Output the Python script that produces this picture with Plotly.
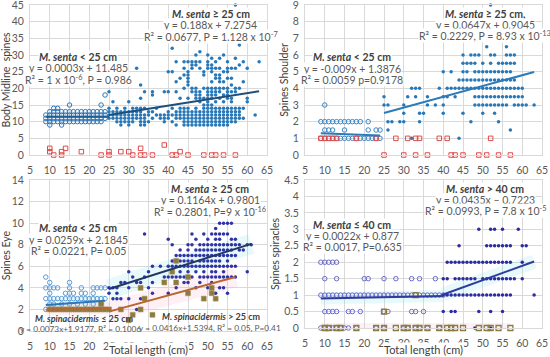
import plotly.graph_objects as go

# ---------------- data ----------------
x_ticks = [5, 10, 15, 20, 25, 30, 35, 40, 45, 50, 55, 60, 65]

# Panel A: Body midline spines (columns: x, list of y)
a_senta_small = [
    (9, [10, 11, 12]), (10, [9, 10, 11, 12, 13]), (11, [10, 11, 12, 13, 14]),
    (12, [10, 11, 12, 13, 14]), (13, [9, 10, 11, 12, 13]), (14, [10, 11, 12, 13]),
    (15, [10, 11, 12, 13, 15]), (16, [10, 11, 12, 13]), (17, [10, 11, 12, 13]),
    (18, [10, 11, 12, 13]), (19, [10, 11, 12, 13]), (20, [10, 11, 12, 13]),
    (21, [10, 11, 12, 13]), (22, [10, 11, 12, 13]), (23, [10, 11, 12, 13, 15]),
    (24, [11, 12, 13, 18]),
]
a_senta_large = [
    (25, [11, 12, 13, 14, 19]), (26, [11, 12, 13, 16]), (27, [10, 11, 12, 13, 14]),
    (28, [9, 10, 11, 12, 13]), (29, [10, 11, 12, 13, 14]), (30, [9, 10, 11, 12, 13, 16]),
    (31, [10, 11, 12, 13, 14]), (32, [11, 12, 13, 14, 26]), (33, [9, 10, 11, 12, 13, 14, 17, 21]),
    (34, [9, 10, 11, 12, 14, 19]), (35, [10, 12, 13]), (36, [11, 13, 18, 19]),
    (37, [12, 14]), (38, [11, 12]), (39, [10, 11, 12, 19]), (40, [11, 12, 13, 19, 25]),
    (41, [10, 12, 14, 25, 32]), (42, [9, 11, 12, 13, 19, 22, 28]),
    (43, [11, 12, 13, 14, 17, 23]), (44, [9, 10, 11, 12, 13, 14, 20, 24, 26, 28]),
    (45, [9, 10, 11, 12, 13, 14, 17, 21, 22, 23, 24, 25, 28]),
    (46, [9, 10, 11, 12, 13, 19, 20, 26, 27, 28]),
    (47, [9, 10, 11, 12, 13, 14, 17, 18, 19, 20, 27, 28, 30]),
    (48, [9, 10, 11, 12, 13, 16, 17, 18, 19, 26, 28, 31]),
    (49, [9, 10, 11, 12, 13, 14, 15, 17, 20, 24, 25]),
    (50, [9, 10, 11, 12, 13, 14, 15, 16, 17, 18, 19, 20, 26, 27, 28, 30]),
    (51, [9, 10, 11, 12, 13, 14, 15, 17, 18, 19, 20, 22, 25, 26, 27, 29]),
    (52, [9, 10, 11, 12, 13, 14, 16, 18, 19, 20, 23, 24, 26, 28]),
    (53, [9, 10, 11, 12, 13, 14, 17, 19, 20, 22, 23, 24, 26, 29]),
    (54, [9, 10, 11, 12, 13, 14, 16, 18, 20, 22, 25, 30]),
    (55, [9, 10, 11, 12, 13, 14, 17, 18, 19, 20, 23, 25, 26, 28]),
    (56, [10, 11, 12, 13, 14, 16, 17, 19, 21, 23, 26]),
    (57, [10, 11, 12, 13, 14, 19, 20, 26, 29, 45]),
    (58, [11, 12, 13, 14, 20, 27, 33]), (59, [11, 14, 22, 28]), (60, [16, 17, 26]),
    (62, [12]), (63, [28]),
]
a_spin = [
    (10, [1, 2]), (11, [0]), (13, [0, 1]), (14, [2]), (18, [1]), (23, [0]), (25, [0, 1]),
    (28, [1]), (30, [1]), (31, [0]), (33, [0, 2]), (34, [0]), (36, [0]), (39, [3]),
    (41, [0]), (42, [0]), (43, [1]), (45, [0]), (49, [0]), (51, [0]), (52, [0]),
    (54, [0]), (57, [0]),
]
a_fit_small = ([9, 25], [11.49, 11.49])
a_fit_large = ([25, 63], [11.98, 19.12])

# Panel B: Spines shoulder
b_senta_small = [
    (9, [1, 2]), (10, [1, 1.5, 2, 3]), (11, [1, 1.5, 2]), (12, [1, 1.5, 2]),
    (13, [1, 2]), (14, [1, 2]), (15, [1, 1.5, 2]), (16, [1, 2]), (17, [1, 2]),
    (18, [1, 2]), (19, [1, 2]), (20, [1]), (21, [1, 1.5, 2]), (22, [1]),
    (23, [1, 1.5]), (24, [1, 1.5]),
]
b_senta_large = [
    (25, [3, 3.5]), (26, [1.5, 2, 3]), (27, [2]), (29, [2]), (30, [2, 2.5, 3]),
    (31, [3.5]), (32, [1, 4]), (33, [3.5, 4]), (34, [2, 2.5, 4]), (35, [2.5]),
    (36, [3, 3.5]), (38, [3]), (39, [4]), (40, [2.5, 3, 3.5, 5]), (41, [3.5, 4]),
    (42, [4, 5]), (43, [3.5, 4]), (44, [1, 4, 4.5]),
    (45, [2.5, 4, 4.5, 5, 5.5, 6]), (46, [4, 4.5, 5, 5.5]),
    (47, [2, 4, 4.5, 5.5, 6]), (48, [3, 3.5, 4, 4.5, 5, 5.5, 6]),
    (49, [3, 3.5, 4, 4.5, 5, 6]), (50, [2.5, 3, 3.5, 4, 4.5, 5, 5.5]),
    (51, [3, 3.5, 4, 4.5, 5, 6.5]), (52, [3, 3.5, 4, 4.5, 5, 5.5, 6, 9]),
    (53, [2.5, 3, 3.5, 4, 4.5, 5, 6]), (54, [2, 3, 3.5, 4, 4.5, 5, 5.5]),
    (55, [3, 3.5, 4, 4.5, 5, 5.5]), (56, [3, 3.5, 4, 4.5, 5, 5.5, 6, 6.5]),
    (57, [1.5, 3.5, 4, 4.5, 5, 5.5, 6]), (58, [3, 3.5, 4, 4.5, 5.5, 6]),
    (59, [3, 3.5, 4]), (60, [3, 3.5, 4]), (61, [3]), (63, [3]),
]
b_spin = [
    (9, [1]), (10, [1]), (11, [1]), (12, [1]), (13, [1]), (18, [1]), (23, [1]),
    (25, [0]), (28, [1]), (30, [0]), (31, [1]), (33, [0, 1]), (34, [1]), (36, [0]),
    (39, [1]), (41, [1]), (42, [0]), (43, [0]), (45, [0]), (49, [0]), (51, [0]),
    (52, [1]), (54, [0]), (57, [0]),
]
b_fit_small = ([9, 24], [1.31, 1.17])
b_fit_large = ([25, 63], [2.52, 4.98])

# Panel C: Spines eye
c_senta_small = [
    (9, [2, 3, 4, 5]), (10, [2, 2.5, 3, 3.5, 4, 4.5]), (11, [2, 2.5, 3, 4]),
    (12, [2, 3, 4]), (13, [2, 2.5, 3]), (14, [2, 3, 3.5]),
    (15, [2, 2.5, 3, 3.5, 4, 4.5]), (16, [2, 3, 3.5]), (17, [2, 2.5, 3]),
    (18, [2, 3, 3.5, 4]), (19, [2, 2.5, 3, 3.5]), (20, [2, 3]),
    (21, [2, 2.5, 3, 3.5, 4]), (22, [2, 3, 4]), (23, [2, 2.5, 3, 4]), (24, [2, 3, 4]),
]
c_senta_large = [
    (25, [3.5, 4]), (26, [3, 4]), (27, [3, 3.5, 4]), (28, [3, 4.5]), (29, [4.5]),
    (30, [3, 4, 5.5]), (31, [5]), (32, [2, 4.5]), (33, [3, 4, 4.5]), (34, [5, 9]),
    (35, [4, 5.5]), (36, [3.5, 4.5, 6]), (38, [6]), (39, [5]), (40, [3.5, 5, 6, 8.5]),
    (41, [5, 6, 6.5, 8]), (42, [4, 5, 6, 6.5, 7]), (43, [5, 5.5, 6, 6.5, 7, 7.5]),
    (44, [4.5, 5, 6, 6.5, 7]), (45, [4.5, 5, 5.5, 6, 6.5, 7, 7.5, 8]),
    (46, [5, 6, 6.5, 7, 8, 9]), (47, [4, 5.5, 6, 7, 7.5, 8.5]),
    (48, [4.5, 5, 6, 6.5, 7, 7.5, 8]), (49, [5, 5.5, 6, 6.5, 7, 7.5, 8, 9]),
    (50, [4, 5, 6, 6.5, 7, 7.5, 8, 8.5]), (51, [4.5, 5, 5.5, 6, 6.5, 7, 7.5, 8, 9]),
    (52, [3.5, 5, 5.5, 6, 6.5, 7, 7.5, 8, 8.5, 9, 9.5]),
    (53, [4, 5, 6, 6.5, 7, 7.5, 8, 8.5, 9, 10]), (54, [4, 5, 5.5, 6, 7, 7.5, 8, 9, 10]),
    (55, [3.5, 5, 6, 6.5, 7, 7.5, 8, 9, 10]), (56, [5, 6, 7, 7.5, 8, 8.5, 10]),
    (57, [5, 6, 7, 8, 8.5]), (58, [7.5, 8]), (59, [7.5]), (60, [5.5, 8]), (61, [8]),
]
c_spin_small = [
    (10, [2]), (11, [2]), (12, [2]), (13, [2]), (14, [2]), (15, [2]), (16, [2]),
    (17, [2]), (18, [2]), (19, [2]), (20, [2]), (21, [2]), (22, [2]), (23, [2, 2.5]),
    (24, [2]),
]
c_spin_large = [
    (25, [2]), (28, [2]), (30, [1]), (31, [1.5]), (33, [2, 4]), (34, [3]), (36, [1.5]),
    (39, [4.5]), (41, [5.5]), (42, [4.5, 6.5]), (45, [3.5, 5]), (49, [3]),
    (51, [3.5, 4]), (52, [3]),
]
c_fit_senta_small = ([9, 24], [2.42, 2.81])
c_fit_senta_large = ([25, 61], [3.89, 8.08])
c_fit_spin_small = ([9, 25], [1.98, 2.10])
c_fit_spin_large = ([25, 57], [1.80, 5.00])

# Panel D: Spines spiracles (rows: y, list of x)
d_senta_small = [
    (2, [9, 10, 11, 12, 13]),
    (1.5, [10, 13, 20, 21, 25, 28, 32, 34, 38]),
    (1, [9, 10, 11, 12, 13, 14, 15, 16, 17, 18, 19, 20, 21, 22, 23, 24, 25, 26, 27,
         28, 29, 30, 31, 32, 33, 34, 35, 36, 37, 38, 39, 40]),
    (0.5, [10, 11, 12, 13, 16, 17, 19, 25, 26, 32, 33, 35]),
    (0, [9, 10, 11, 12, 13, 14, 15, 16, 18, 23, 25, 30, 31, 33, 34, 36, 39]),
]
d_senta_large = [
    (3, [49, 52, 53, 55, 59]),
    (2.5, [44, 51, 52, 53, 54, 55, 56, 57, 60, 61]),
    (2, [41, 42, 43, 44, 45, 46, 47, 48, 49, 50, 51, 52, 53, 54, 55, 56, 57, 60]),
    (1.5, [40, 41, 43, 44, 45, 46, 47, 48, 50, 51, 52, 53, 54, 55, 56, 57, 58, 60]),
    (1, [40, 41, 42, 43, 44, 45, 46, 47, 48, 49, 50, 51, 52, 53, 54, 55, 56, 57, 63]),
    (0.5, [40, 42, 43, 49, 52, 55]),
    (0, [48, 52]),
]
d_spin = [
    (1, [33]),
    (0.5, [25]),
    (0, [10, 11, 13, 14, 18, 23, 25, 28, 30, 31, 33, 34, 36, 39, 41, 42, 43, 45, 49,
         51, 52, 54, 57]),
]
d_fit_small = ([9, 40], [0.90, 0.97])
d_fit_large = ([40, 63], [1.02, 2.02])
d_fit_spin = ([9, 57], [0.0, 0.0])


def cols(data):
    xs, ys = [], []
    for x, yl in data:
        for y in yl:
            xs.append(x)
            ys.append(y)
    return xs, ys


def rows(data):
    xs, ys = [], []
    for y, xl in data:
        for x in xl:
            xs.append(x)
            ys.append(y)
    return xs, ys


fig = go.Figure()

FONT = "Lato, 'Liberation Sans', sans-serif"
TXT = "#595959"
DARK = "#404040"


def pts(xy, ax, symbol, color, size, lw=1, fill=None):
    xs, ys = xy
    fig.add_trace(go.Scatter(
        x=xs, y=ys, mode="markers", xaxis="x" + ax, yaxis="y" + ax,
        marker=dict(symbol=symbol, size=size, color=fill if fill else color,
                    line=dict(color=color, width=lw)),
        cliponaxis=False, hoverinfo="skip"))


def line(fit, ax, color, width=2, opacity=1.0):
    fig.add_trace(go.Scatter(
        x=fit[0], y=fit[1], mode="lines", xaxis="x" + ax, yaxis="y" + ax,
        line=dict(color=color, width=width), opacity=opacity, hoverinfo="skip"))


# Panel A (axes 1)
pts(cols(a_senta_small), "", "circle-open", "#2E75B6", 4.5)
pts(cols(a_senta_large), "", "circle", "#2878B8", 3.5, lw=0)
pts(cols(a_spin), "", "square-open", "#E04B4B", 4.5)
line(a_fit_small, "", "#1F5F8F")
line(a_fit_large, "", "#1F4E79")

# Panel B (axes 2)
pts(cols(b_senta_small), "2", "circle-open", "#3A86C4", 4.5)
pts(cols(b_senta_large), "2", "circle", "#2878B8", 3.5, lw=0)
pts(cols(b_spin), "2", "square-open", "#E04B4B", 4.5)
line(b_fit_small, "2", "#2B7BBA")
line(b_fit_large, "2", "#2B7BBA")

# Panel C (axes 3) - glows first
line(c_fit_senta_small, "3", "#7FE3EE", width=12, opacity=0.18)
line(c_fit_senta_large, "3", "#7FE3EE", width=20, opacity=0.18)
line(c_fit_spin_small, "3", "#F9A8C8", width=12, opacity=0.16)
line(c_fit_spin_large, "3", "#F9A8C8", width=20, opacity=0.16)
pts(cols(c_senta_small), "3", "circle-open", "#5B9BD5", 4.5)
pts(cols(c_senta_large), "3", "circle", "#2E34A6", 3.5, lw=0)
pts(cols(c_spin_small), "3", "square", "#A8955A", 5, lw=0.5, fill="#8C7B3E")
pts(cols(c_spin_large), "3", "square", "#A8955A", 5, lw=0.5, fill="#8C7B3E")
line(c_fit_senta_small, "3", "#2E75B6")
line(c_fit_senta_large, "3", "#203864")
line(c_fit_spin_small, "3", "#B8652E")
line(c_fit_spin_large, "3", "#B8652E")

# Panel D (axes 4)
line(d_fit_small, "4", "#7FE3EE", width=12, opacity=0.18)
line(d_fit_large, "4", "#7FE3EE", width=14, opacity=0.18)
line(d_fit_spin, "4", "#F9A8C8", width=10, opacity=0.16)
pts(rows(d_senta_small), "4", "circle-open", "#6A6ACD", 4.5)
pts(rows(d_senta_large), "4", "circle", "#2C2CA0", 3.5, lw=0)
pts(rows(d_spin), "4", "square-open", "#8C7B3E", 5, lw=1.3)
line(d_fit_small, "4", "#2F3C9E")
line(d_fit_large, "4", "#2F3C9E")

# ---------------- axes ----------------
W, H = 550, 357
dom_x_left = [30 / W, 267 / W]
dom_x_right = [305 / W, 542 / W]
dom_y_top = [1 - 155 / H, 1 - 5 / H]
dom_y_bl = [1 - 331 / H, 1 - 180 / H]
dom_y_br = [1 - 328 / H, 1 - 180 / H]

grid = "#D9D9D9"


def xax(dom, anchor):
    return dict(domain=dom, anchor=anchor, range=[5, 65], tickvals=x_ticks,
                showgrid=True, gridcolor=grid, gridwidth=1, zeroline=False,
                showline=True, linecolor=grid, mirror=True,
                ticks="outside", ticklen=5, tickcolor="rgba(0,0,0,0)",
                ticklabeloverflow="allow",
                tickfont=dict(family=FONT, size=10.5, color=TXT), automargin=False)


def yax(dom, anchor, rng, dtick, title):
    return dict(domain=dom, anchor=anchor, range=rng, dtick=dtick, tick0=0,
                showgrid=True, gridcolor=grid, gridwidth=1, zeroline=False,
                showline=True, linecolor=grid, mirror=True,
                ticks="outside", ticklen=3, tickcolor="rgba(0,0,0,0)",
                ticklabeloverflow="allow",
                tickfont=dict(family=FONT, size=10.5, color=TXT), automargin=False,
                title=dict(text=title, font=dict(family=FONT, size=10.5, color=DARK),
                           standoff=2))


fig.update_layout(
    width=W, height=H, margin=dict(l=0, r=0, t=0, b=0),
    paper_bgcolor="white", plot_bgcolor="white", showlegend=False,
    xaxis=xax(dom_x_left, "y"), yaxis=yax(dom_y_top, "x", [0, 45], 5, "Body Midline  spines"),
    xaxis2=xax(dom_x_right, "y2"), yaxis2=yax(dom_y_top, "x2", [0, 9], 1, "Spines Shoulder"),
    xaxis3=xax(dom_x_left, "y3"), yaxis3=yax(dom_y_bl, "x3", [0, 14], 2, "Spines Eye"),
    xaxis4=xax(dom_x_right, "y4"), yaxis4=yax(dom_y_br, "x4", [0, 4.5], 0.5, "Spines spiracles"),
)


# ---------------- labels ----------------
def lab(ax, x, y, text, size=10.5, color=TXT, bg="white"):
    fig.add_annotation(xref="x" + ax, yref="y" + ax, x=x, y=y, text=text,
                       showarrow=False, font=dict(family=FONT, size=size, color=color),
                       bgcolor=bg, borderpad=0, xanchor="center", yanchor="middle")


def head(name, rest):
    return "<b><i>" + name + "</i>" + rest + "</b>"


CLEAR = "rgba(255,255,255,0)"

# Panel A
lab("", 17.2, 29.4, head("M. senta", " &lt; 25 cm"), color=DARK)
lab("", 17.2, 26.0, "y = 0.0003x + 11.485")
lab("", 17.2, 22.5, "R² = 1 x 10<sup>-6</sup>, P = 0.986")
lab("", 50.8, 42.3, head("M. senta", " ≥ 25 cm"), color=DARK)
lab("", 50.8, 38.9, "y = 0.188x + 7.2754")
lab("", 50.8, 35.4, "R² = 0.0677, P = 1.128 x 10<sup>-7</sup>")

# Panel B
lab("2", 16.9, 5.88, head("M. senta", " &lt; 25 cm"), color=DARK)
lab("2", 16.9, 5.18, "y = -0.009x + 1.3876")
lab("2", 16.9, 4.50, "R² = 0.0059 p=0.9178")
lab("2", 50.6, 8.46, head("M. senta", " ≥ 25 cm,"), color=DARK)
lab("2", 50.6, 7.80, "y = 0.0647x + 0.9045")
lab("2", 50.6, 7.14, "R² = 0.2229, P = 8.93 x 10<sup>-13</sup>")

# Panel C
lab("3", 17.2, 9.55, head("M. senta", " &lt; 25 cm"), color=DARK)
lab("3", 17.2, 8.48, "y = 0.0259x + 2.1845")
lab("3", 17.2, 7.41, "R² = 0.0221, P= 0.05")
lab("3", 50.6, 13.16, head("M. senta", " ≥ 25 cm"), color=DARK)
lab("3", 50.6, 12.14, "y = 0.1164x + 0.9801")
lab("3", 50.6, 11.12, "R² = 0.2801, P=9 x 10<sup>-16</sup>")
lab("3", 18.9, 1.2, head("M. spinacidermis", " ≤ 25 cm"), size=9, color=DARK, bg=CLEAR)
lab("3", 17.7, 0.19, "y = 0.0073x+1.9177, R² = 0.1006", size=8.3, bg=CLEAR)
lab("3", 51.0, 1.39, head("M. spinacidermis", " &gt; 25 cm"), size=9, color=DARK, bg=CLEAR)
lab("3", 50.6, 0.28, "y = 0.0416x+1.5394, R² = 0.05, P=0.41", size=8.3, bg=CLEAR)

# Panel D
lab("4", 16.9, 3.13, head("M. senta", " ≤ 40 cm"), color=DARK)
lab("4", 16.9, 2.80, "y = 0.0022x + 0.877")
lab("4", 16.9, 2.46, "R² = 0.0017, P=0.635")
lab("4", 50.6, 4.22, head("M. senta", " &gt; 40 cm"), color=DARK)
lab("4", 50.6, 3.89, "y = 0.0435x – 0.7223")
lab("4", 50.6, 3.56, "R² = 0.0993, P = 7.8 x 10<sup>-5</sup>")

# x-axis titles (overlapping tick row, white background as in original)
for cx in [(30 + 267) / 2 / W, (305 + 542) / 2 / W]:
    fig.add_annotation(xref="paper", yref="paper", x=cx, y=1 - 349 / H,
                       text="Total length (cm)", showarrow=False, bgcolor="white",
                       borderpad=0, font=dict(family=FONT, size=11, color=DARK),
                       xanchor="center", yanchor="middle")

fig.write_html("out.html", config={"displayModeBar": False},
               post_script="document.body.style.margin='0';")
